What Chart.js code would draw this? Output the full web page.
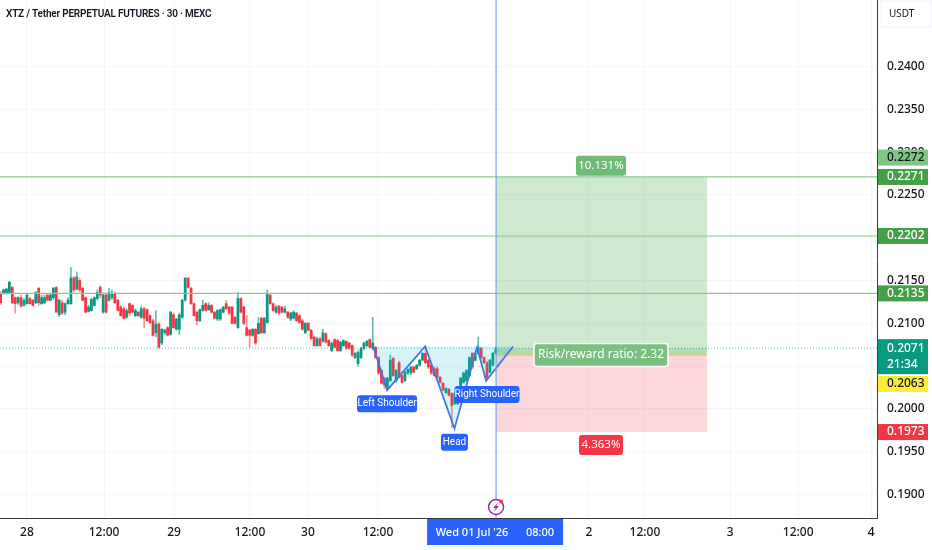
<!DOCTYPE html>
<html>
<head>
<meta charset="utf-8">
<style>
  html, body { margin: 0; padding: 0; background: #fff; }
  canvas { display: block; }
</style>
<script src="https://cdn.jsdelivr.net/npm/chart.js@4/dist/chart.umd.js"></script>
</head>
<body>
<canvas id="myChart" width="932" height="550"></canvas>
<script>
const opens = [
  .2135,.2135,.2135,.2136,.2142,.2130,.2124,.2130,.2121,.2123,
  .2129,.2127,.2124,.2141,.2123,.2124,.2133,.2127,.2130,.2142,
  .2110,.2124,.2113,.2123,.2123,.2153,.2140,.2150,.2141,.2130,
  .2114,.2115,.2121,.2129,.2142,.2113,.2133,.2127,.2130,.2135,
  .2127,.2119,.2117,.2107,.2123,.2121,.2109,.2113,.2107,.2117,
  .2116,.2109,.2103,.2089,.2099,.2077,.2089,.2095,.2087,.2110,
  .2093,.2093,.2107,.2127,.2153,.2141,.2123,.2113,.2103,.2115,
  .2123,.2116,.2121,.2113,.2105,.2105,.2113,.2123,.2119,.2119,
  .2107,.2095,.2129,.2119,.2095,.2092,.2086,.2093,.2088,.2106,
  .2089,.2101,.2133,.2123,.2113,.2120,.2119,.2113,.2113,.2105,
  .2106,.2112,.2109,.2103,.2089,.2100,.2092,.2084,.2074,.2082,
  .2079,.2088,.2080,.2068,.2081,.2080,.2068,.2074,.2079,.2077,
  .2074,.2060,.2053,.2060,.2071,.2074,.2081,.2071,.2072,.2060,
  .2045,.2036,.2025,.2033,.2059,.2033,.2054,.2039,.2033,.2042,
  .2042,.2049,.2047,.2051,.2057,.2065,.2057,.2051,.2047,.2047,
  .2037,.2030,.2019,.2023,.2018,.2006,.2006,.2022,.2031,.2033,
  .2039,.2065,.2057,.2065,.2071,.2060,.2054,.2043,.2051,.2065
];
const highs = [
  .2137,.2140,.2141,.2149,.2143,.2131,.2131,.2133,.2129,.2135,
  .2130,.2128,.2137,.2142,.2133,.2133,.2134,.2134,.2142,.2143,
  .2128,.2127,.2124,.2130,.2165,.2155,.2160,.2153,.2142,.2131,
  .2121,.2129,.2131,.2139,.2144,.2134,.2134,.2141,.2139,.2137,
  .2128,.2121,.2119,.2117,.2124,.2122,.2117,.2114,.2120,.2119,
  .2117,.2110,.2105,.2115,.2101,.2094,.2093,.2096,.2114,.2112,
  .2106,.2112,.2128,.2153,.2153,.2142,.2124,.2114,.2117,.2127,
  .2124,.2124,.2122,.2114,.2116,.2117,.2120,.2127,.2120,.2120,
  .2108,.2136,.2130,.2120,.2109,.2093,.2094,.2094,.2107,.2107,
  .2107,.2139,.2134,.2124,.2121,.2121,.2120,.2120,.2114,.2113,
  .2115,.2113,.2110,.2105,.2101,.2101,.2093,.2085,.2084,.2084,
  .2093,.2089,.2081,.2078,.2082,.2081,.2079,.2081,.2080,.2078,
  .2075,.2066,.2068,.2072,.2078,.2080,.2082,.2107,.2073,.2061,
  .2046,.2037,.2037,.2063,.2060,.2046,.2056,.2040,.2044,.2047,
  .2050,.2050,.2052,.2058,.2066,.2073,.2058,.2052,.2049,.2049,
  .2038,.2031,.2025,.2024,.2019,.2019,.2025,.2037,.2043,.2046,
  .2061,.2066,.2066,.2084,.2072,.2061,.2056,.2058,.2066,.2073
];
const lows = [
  .2122,.2134,.2134,.2135,.2123,.2112,.2122,.2119,.2120,.2122,
  .2122,.2120,.2123,.2121,.2122,.2123,.2126,.2126,.2128,.2113,
  .2108,.2110,.2110,.2122,.2122,.2137,.2139,.2137,.2126,.2112,
  .2113,.2114,.2120,.2127,.2130,.2112,.2112,.2126,.2128,.2123,
  .2114,.2108,.2105,.2106,.2109,.2112,.2108,.2108,.2106,.2095,
  .2102,.2100,.2085,.2084,.2071,.2075,.2087,.2085,.2086,.2094,
  .2092,.2087,.2106,.2126,.2141,.2122,.2108,.2098,.2102,.2114,
  .2114,.2115,.2112,.2105,.2103,.2103,.2112,.2116,.2110,.2099,
  .2099,.2094,.2112,.2098,.2085,.2072,.2085,.2075,.2087,.2088,
  .2088,.2100,.2122,.2114,.2112,.2110,.2112,.2112,.2106,.2103,
  .2105,.2102,.2100,.2092,.2088,.2091,.2081,.2073,.2073,.2073,
  .2078,.2077,.2073,.2067,.2071,.2067,.2067,.2073,.2069,.2069,
  .2061,.2059,.2050,.2059,.2069,.2073,.2071,.2069,.2059,.2040,
  .2029,.2024,.2023,.2032,.2038,.2031,.2036,.2030,.2032,.2040,
  .2040,.2042,.2046,.2050,.2056,.2053,.2047,.2040,.2038,.2036,
  .2030,.2021,.2018,.2015,.1978,.2005,.2005,.2021,.2030,.2032,
  .2038,.2047,.2056,.2064,.2059,.2053,.2036,.2042,.2050,.2064
];
const closes = [
  .2124,.2139,.2140,.2148,.2124,.2123,.2130,.2120,.2127,.2133,
  .2123,.2121,.2136,.2124,.2130,.2130,.2127,.2133,.2141,.2113,
  .2127,.2112,.2123,.2127,.2153,.2139,.2154,.2139,.2127,.2113,
  .2119,.2128,.2130,.2136,.2133,.2133,.2113,.2136,.2135,.2124,
  .2115,.2109,.2106,.2115,.2112,.2113,.2115,.2109,.2117,.2106,
  .2103,.2101,.2086,.2099,.2072,.2093,.2092,.2086,.2113,.2095,
  .2105,.2110,.2127,.2153,.2142,.2123,.2109,.2103,.2116,.2121,
  .2115,.2121,.2113,.2106,.2115,.2116,.2119,.2117,.2112,.2100,
  .2100,.2129,.2113,.2100,.2086,.2086,.2093,.2077,.2100,.2089,
  .2106,.2134,.2123,.2115,.2119,.2112,.2113,.2117,.2107,.2112,
  .2113,.2103,.2101,.2093,.2100,.2092,.2082,.2074,.2082,.2074,
  .2089,.2078,.2074,.2077,.2072,.2068,.2078,.2080,.2071,.2071,
  .2063,.2065,.2066,.2071,.2077,.2079,.2072,.2077,.2060,.2042,
  .2030,.2028,.2036,.2057,.2039,.2045,.2037,.2031,.2043,.2046,
  .2049,.2043,.2051,.2057,.2065,.2054,.2049,.2042,.2039,.2037,
  .2031,.2022,.2024,.2016,.2004,.2018,.2024,.2036,.2042,.2045,
  .2060,.2049,.2065,.2072,.2060,.2054,.2037,.2057,.2065,.2071
];

const xTickValues = [9, 35.3, 59.2, 85.1, 104.9, 128.8, 200.8, 219.9, 249, 272.2, 297.1];
const xTickLabels = ["28", "12:00", "29", "12:00", "30", "12:00", "2", "12:00", "3", "12:00", "4"];
const yTickValues = [.24, .235, .23, .225, .22, .215, .21, .205, .2, .195, .19];
const yMin = 0.18726;
const yMax = 0.24777;

const levels = [.2271, .2202, .2135];
const lastPrice = .2071;
const entryPrice = .2063;
const targetPrice = .2271;
const stopPrice = .1973;
const crosshairIndex = 169.1;
const boxEndIndex = 241.1;

const patternIndex = [127.2, 131.9, 144.9, 154.9, 162.6, 165.7, 174.9];
const patternPrice = [.2073, .2022, .2073, .1977, .2072, .2033, .2073];

const badgePrices = ["0.2272", "0.2271", "0.2202", "0.2135", "0.2063", "0.1973"];
const calloutText = ["Left Shoulder", "Head", "Right Shoulder", "10.131%", "4.363%", "Risk/reward ratio: 2.32"];
const calloutIndex = [131.9, 154.9, 166, 204.9, 204.9, 204.9];
const calloutPrice = [.2006, .1961, .2017, .2284, .1958, .2063];

const UP = "#089981";
const DOWN = "#f23645";
const FONT = '"Noto Sans", sans-serif';
const NARROW = 'Roboto, sans-serif';

const badgeStyles = [
  { bg: "#81c784", fg: "#131722", shift: -18.5 },
  { bg: "#43a047", fg: "#fff", shift: 0 },
  { bg: "#43a047", fg: "#fff", shift: 0 },
  { bg: "#43a047", fg: "#fff", shift: 0 },
  { bg: "#ffeb3b", fg: "#131722", shift: 29 },
  { bg: "#f23645", fg: "#fff", shift: 0 },
];
const calloutStyles = [
  { bg: "#2962ff", fg: "#fff", w: 60, h: 17, size: 10, font: NARROW },
  { bg: "#2962ff", fg: "#fff", w: 27, h: 17, size: 10, font: NARROW },
  { bg: "#2962ff", fg: "#fff", w: 65, h: 17, size: 10, font: NARROW },
  { bg: "#6fba74", fg: "#fff", w: 50, h: 20, size: 11.5, font: FONT },
  { bg: "#f23645", fg: "#fff", w: 44, h: 20, size: 11.5, font: FONT },
  { bg: "#7cbf80", fg: "#fff", w: 134, h: 23, size: 12, font: FONT, border: "#fff" },
];

function roundBox(c, x, y, w, h, r, bg, border) {
  c.beginPath();
  c.roundRect(x, y, w, h, r);
  c.fillStyle = bg;
  c.fill();
  if (border) {
    c.lineWidth = 1.5;
    c.strokeStyle = border;
    c.stroke();
  }
}

function label(c, text, x, y, color, size, weight, font) {
  c.font = (weight || "400") + " " + size + "px " + (font || FONT);
  c.fillStyle = color;
  c.fillText(text, x, y);
}

// everything that is not a dataset: price badges, callouts, time box, header
const overlays = {
  id: "overlays",
  afterDraw(chart) {
    const c = chart.ctx;
    const { x, y } = chart.scales;
    const area = chart.chartArea;
    c.save();
    c.textBaseline = "middle";

    calloutText.forEach((text, i) => {
      const s = calloutStyles[i];
      const cx = x.getPixelForValue(calloutIndex[i]);
      const cy = y.getPixelForValue(calloutPrice[i]);
      roundBox(c, cx - s.w / 2, cy - s.h / 2, s.w, s.h, 3, s.bg, s.border);
      c.textAlign = "center";
      label(c, text, cx, cy, s.fg, s.size, "400", s.font);
    });

    // price scale badges
    const bx = area.right + 1;
    c.textAlign = "left";
    badgePrices.forEach((text, i) => {
      const s = badgeStyles[i];
      const cy = y.getPixelForValue(parseFloat(text)) + s.shift;
      c.fillStyle = s.bg;
      c.fillRect(bx, cy - 8, 50, 16);
      label(c, text, bx + 9, cy, s.fg, 12, "500");
    });
    const ly = y.getPixelForValue(lastPrice);
    c.fillStyle = UP;
    c.fillRect(bx, ly - 9, 50, 35);
    label(c, lastPrice.toFixed(4), bx + 9, ly, "#fff", 12, "500");
    label(c, "21:34", bx + 9, ly + 16, "#fff", 12, "500");

    // USDT cell
    c.strokeStyle = "#f0f3fa";
    c.lineWidth = 1;
    c.strokeRect(bx + 3, 1, 50, 26);
    label(c, "USDT", bx + 11, 14, "#131722", 10);

    // crosshair time box
    const cx = x.getPixelForValue(crosshairIndex);
    c.fillStyle = "#2962ff";
    c.fillRect(cx - 69, area.bottom + 1, 136, 26);
    c.textAlign = "center";
    label(c, "Wed 01 Jul '26", cx - 24, area.bottom + 15, "#fff", 11, "500");
    label(c, "08:00", cx + 44, area.bottom + 15, "#fff", 11, "500");

    // event marker on the crosshair
    const ey = area.bottom - 11;
    c.beginPath();
    c.arc(cx, ey, 7.5, 0, Math.PI * 2);
    c.fillStyle = "#fff";
    c.fill();
    c.lineWidth = 1.5;
    c.strokeStyle = "#9c27b0";
    c.stroke();
    c.beginPath();
    c.moveTo(cx + 2.5, ey - 5);
    c.lineTo(cx - 3, ey + 1);
    c.lineTo(cx - 0.3, ey + 1);
    c.lineTo(cx - 2.5, ey + 5);
    c.lineTo(cx + 3, ey - 1);
    c.lineTo(cx + 0.3, ey - 1);
    c.closePath();
    c.fillStyle = "#9c27b0";
    c.fill();
    c.beginPath();
    c.arc(cx + 5, ey - 5.5, 2, 0, Math.PI * 2);
    c.fillStyle = "#f23645";
    c.fill();

    // header
    c.textAlign = "left";
    c.letterSpacing = "-0.2px";
    label(c, "XTZ / Tether PERPETUAL FUTURES · 30 · MEXC", area.left + 6, 14, "#131722", 10, "600", NARROW);
    c.letterSpacing = "0px";
    c.restore();
  },
};

function hLine(price, color, dash, order) {
  return {
    type: "line",
    data: [{ x: -0.2, y: price }, { x: 299.1, y: price }],
    borderColor: color,
    borderWidth: dash ? 1 : 1.2,
    borderDash: dash || [],
    pointRadius: 0,
    fill: false,
    order: order,
  };
}

function band(top, bottom, color, order) {
  return {
    type: "line",
    data: [{ x: crosshairIndex, y: top }, { x: boxEndIndex, y: top }],
    borderWidth: 0,
    borderColor: "transparent",
    backgroundColor: color,
    pointRadius: 0,
    fill: { value: bottom },
    order: order,
  };
}

const candleIndex = opens.map((_, i) => i);
const candleColors = opens.map((o, i) => (closes[i] >= o ? UP : DOWN));
const wickColors = opens.map((o, i) => (closes[i] >= o ? "rgba(8,153,129,.65)" : "rgba(242,54,69,.55)"));

new Chart(document.getElementById("myChart"), {
  type: "bar",
  data: {
    datasets: [
      band(targetPrice, entryPrice, "rgba(76,175,80,.27)", 20),
      band(lastPrice, entryPrice, "rgba(76,175,80,.25)", 19),
      band(entryPrice, stopPrice, "rgba(242,54,69,.2)", 20),
      {
        type: "line",
        data: [{ x: crosshairIndex, y: entryPrice }, { x: boxEndIndex, y: entryPrice }],
        borderColor: "#e9cc6e",
        borderWidth: 1.5,
        pointRadius: 0,
        order: 18,
      },
      {
        data: candleIndex.map((i) => ({ x: i, y: [lows[i], highs[i]] })),
        backgroundColor: wickColors,
        barThickness: 1,
        grouped: false,
        order: 12,
      },
      {
        data: candleIndex.map((i) => ({ x: i, y: [opens[i], closes[i]] })),
        backgroundColor: candleColors,
        barThickness: 2.1,
        grouped: false,
        order: 11,
      },
      hLine(lastPrice, "rgba(8,153,129,.6)", [1, 2], 5),
      ...levels.map((v) => hLine(v, "#8cc98f", null, 4)),
      {
        type: "line",
        data: patternIndex.map((v, i) => ({ x: v, y: patternPrice[i] })),
        borderColor: "#3f78dc",
        borderWidth: 1.8,
        backgroundColor: "rgba(0,188,212,.16)",
        pointRadius: 0,
        fill: { value: 0.2073 },
        order: 3,
      },
      {
        type: "line",
        data: [{ x: crosshairIndex, y: yMin }, { x: crosshairIndex, y: yMax }],
        borderColor: "#7ba2e6",
        borderWidth: 1.2,
        pointRadius: 0,
        order: 2,
      },
    ],
  },
  options: {
    responsive: false,
    animation: false,
    events: [],
    layout: { padding: 0 },
    scales: {
      x: {
        type: "linear",
        offset: false,
        min: -0.2,
        max: 299.1,
        afterBuildTicks(scale) {
          scale.ticks = xTickValues.map((v) => ({ value: v }));
        },
        afterFit(scale) {
          scale.height = 32;
          scale.paddingLeft = 0;
          scale.paddingRight = 0;
        },
        grid: { color: "#f5f6f9", drawTicks: false, offset: false },
        border: { color: "#3a3e4a", width: 1 },
        ticks: {
          autoSkip: false,
          maxRotation: 0,
          padding: 7,
          color: "#131722",
          font: { family: FONT, size: 12, weight: "500" },
          callback(value, index) {
            return xTickLabels[index];
          },
        },
      },
      y: {
        position: "right",
        min: yMin,
        max: yMax,
        afterBuildTicks(scale) {
          scale.ticks = yTickValues.map((v) => ({ value: v }));
        },
        afterFit(scale) {
          scale.width = 55;
          scale.paddingTop = 0;
          scale.paddingBottom = 0;
        },
        grid: { color: "#f5f6f9", drawTicks: false },
        border: { color: "#3a3e4a", width: 1 },
        ticks: {
          autoSkip: false,
          crossAlign: "near",
          padding: 10,
          color: "#131722",
          font: { family: FONT, size: 12, weight: "500" },
          callback(value) {
            return value.toFixed(4);
          },
        },
      },
    },
    plugins: {
      legend: { display: false },
      tooltip: { enabled: false },
      title: { display: false },
    },
  },
  plugins: [overlays],
});
</script>
</body>
</html>
